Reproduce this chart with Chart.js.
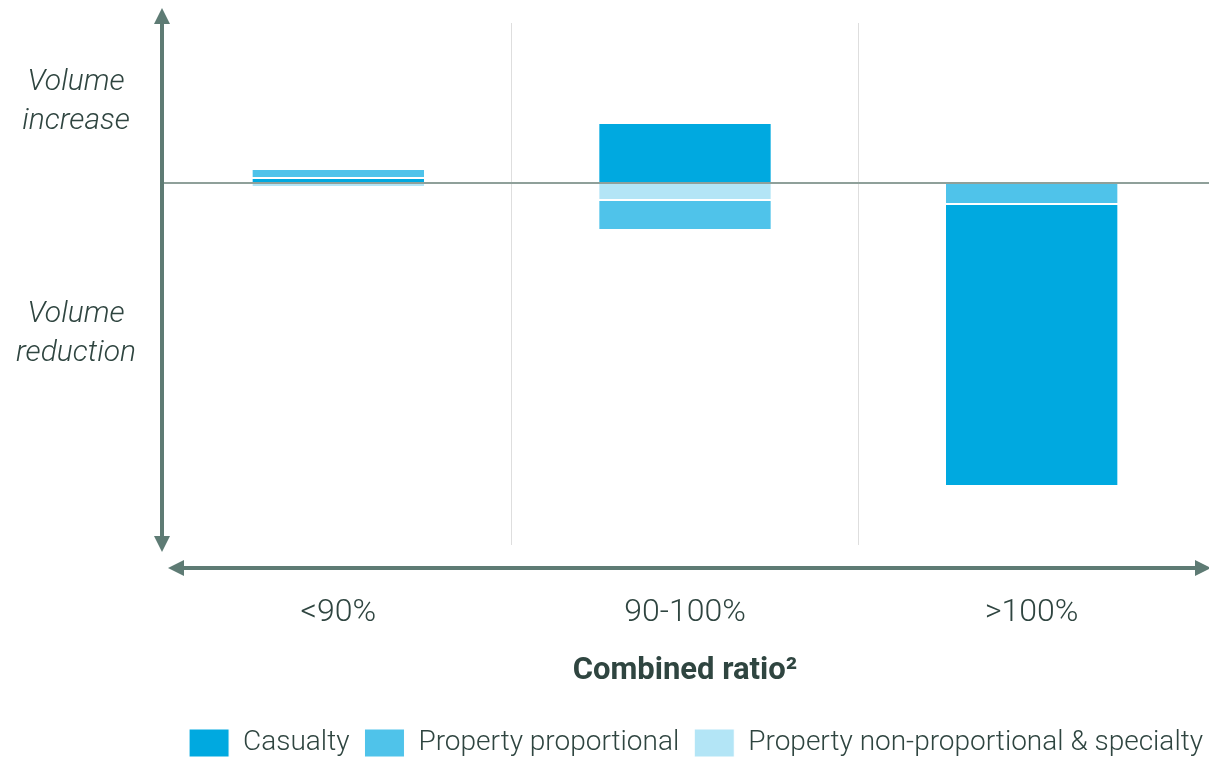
<!DOCTYPE html>
<html>
<head>
<meta charset="utf-8">
<script src="https://cdn.jsdelivr.net/npm/chart.js@4.4.1/dist/chart.umd.min.js"></script>
<style>
  html, body { margin: 0; padding: 0; background: #fff; }
  #wrap { width: 1209px; height: 759px; position: relative; }
</style>
</head>
<body>
<div id="wrap"><canvas id="ratioChart"></canvas></div>
<script>
const categories = ['<90%', '90-100%', '>100%'];
// each segment is [from, to] on the volume-change scale (0 = unchanged)
const casualty = [[0, 5], [0, 60], [-21, -303]];
const propertyProportional = [[5, 14], [-17, -47], [0, -21]];
const propertyNonProportional = [[0, -4], [0, -17], null];
const yTickValues = [81, -151];
const yTickLabels = [['Volume', 'increase'], ['Volume', 'reduction']];

const FONT = 'Roboto, "Noto Sans", sans-serif';
const TEXT = '#2f4540';
const ARROW = '#5e7b74';

function arrowHead(ctx, x, y, dx, dy) {
  const len = 16, half = 8;
  const bx = x - dx * len, by = y - dy * len;
  ctx.beginPath();
  ctx.moveTo(x, y);
  ctx.lineTo(bx - dy * half, by + dx * half);
  ctx.lineTo(bx + dy * half, by - dx * half);
  ctx.closePath();
  ctx.fill();
}

// zero line plus the two double-headed axis arrows
const axisArrows = {
  id: 'axisArrows',
  afterLayout(chart) {
    // push the legend flush to the bottom-right corner
    const lg = chart.legend;
    lg.left += 13; lg.right += 13;
    lg.top += 13; lg.bottom += 13;
  },
  afterDatasetsDraw(chart) {
    const { ctx, chartArea: a, scales: { y } } = chart;
    const w = chart.width;
    const zero = y.getPixelForValue(0);
    ctx.save();
    ctx.strokeStyle = '#8fa09a';
    ctx.lineWidth = 2;
    ctx.beginPath();
    ctx.moveTo(a.left - 2, zero);
    ctx.lineTo(w, zero);
    ctx.stroke();

    ctx.strokeStyle = ARROW;
    ctx.fillStyle = ARROW;
    ctx.lineWidth = 4;
    const ax = a.left - 3, yTop = a.top - 15, yBot = a.bottom + 7;
    ctx.beginPath();
    ctx.moveTo(ax, yTop + 12);
    ctx.lineTo(ax, yBot - 12);
    ctx.stroke();
    arrowHead(ctx, ax, yTop, 0, -1);
    arrowHead(ctx, ax, yBot, 0, 1);

    const hy = a.bottom + 23, xL = a.left + 3, xR = w + 2;
    ctx.beginPath();
    ctx.moveTo(xL + 12, hy);
    ctx.lineTo(xR - 12, hy);
    ctx.stroke();
    arrowHead(ctx, xL, hy, -1, 0);
    arrowHead(ctx, xR, hy, 1, 0);
    ctx.restore();
  }
};

const barStyle = {
  grouped: false,
  barPercentage: 0.5,
  categoryPercentage: 1,
  borderColor: '#ffffff',
  borderWidth: 1,
  borderSkipped: false
};

new Chart(document.getElementById('ratioChart'), {
  type: 'bar',
  data: {
    labels: categories,
    datasets: [
      { label: 'Casualty', data: casualty, backgroundColor: '#00a9e0', ...barStyle },
      { label: 'Property proportional', data: propertyProportional, backgroundColor: '#4fc3ea', ...barStyle },
      { label: 'Property non-proportional & specialty', data: propertyNonProportional, backgroundColor: '#b3e5f6', ...barStyle }
    ]
  },
  options: {
    responsive: true,
    maintainAspectRatio: false,
    animation: false,
    layout: { padding: { top: 23, right: 4, left: 0, bottom: 5 } },
    plugins: {
      tooltip: { enabled: false },
      legend: {
        position: 'bottom',
        align: 'end',
        labels: {
          boxWidth: 40,
          boxHeight: 28,
          padding: 15,
          color: TEXT,
          font: { family: FONT, size: 28, weight: 300 }
        }
      }
    },
    scales: {
      x: {
        grid: {
          offset: true,
          drawTicks: false,
          lineWidth: 1,
          color: c => (c.index >= 1 ? '#dedede' : 'rgba(0,0,0,0)')
        },
        border: { display: false },
        afterFit: s => { s.height = 156; },
        ticks: { padding: 49, color: TEXT, font: { family: FONT, size: 32, weight: 300 } },
        title: {
          display: true,
          text: 'Combined ratio²',
          color: TEXT,
          font: { family: FONT, size: 31, weight: 'bold' },
          padding: { top: 18, bottom: 11 }
        }
      },
      y: {
        min: -362,
        max: 160,
        grid: { display: false, drawTicks: false },
        border: { display: false },
        afterBuildTicks: s => { s.ticks = yTickValues.map(v => ({ value: v })); },
        afterFit: s => { s.width = 165; s.paddingTop = 0; s.paddingBottom = 0; },
        ticks: {
          crossAlign: 'center',
          padding: 29,
          color: TEXT,
          font: { family: FONT, size: 30, style: 'italic', weight: 300, lineHeight: 1.27 },
          callback: (v, i) => yTickLabels[i]
        }
      }
    }
  },
  plugins: [axisArrows]
});
</script>
</body>
</html>
